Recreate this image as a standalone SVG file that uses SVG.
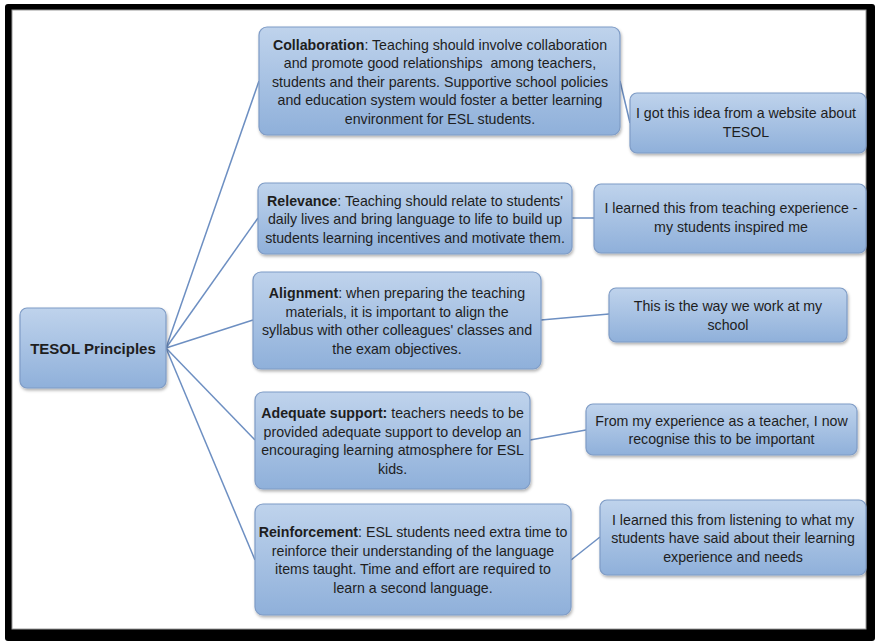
<svg xmlns="http://www.w3.org/2000/svg" width="875" height="641" viewBox="0 0 875 641">
<defs>
<linearGradient id="g" x1="0" y1="0" x2="0" y2="1">
<stop offset="0" stop-color="#bfd3ec"/>
<stop offset="1" stop-color="#8fb0da"/>
</linearGradient>
<filter id="sh" x="-5%" y="-10%" width="110%" height="125%">
<feDropShadow dx="1" dy="2" stdDeviation="1.5" flood-color="#000" flood-opacity="0.3"/>
</filter>
</defs>
<style>
.box{fill:url(#g);stroke:#7f9cc6;stroke-width:1.2;filter:url(#sh)}
.t{font-family:"Liberation Sans",Arial,sans-serif;font-size:14.2px;fill:#1e1e1e;text-anchor:middle}
.b{font-weight:bold}
.c{stroke:#6d8fc2;stroke-width:1.5;fill:none}
</style>
<rect x="5" y="4" width="870" height="637" rx="3" fill="#000"/>
<rect x="12" y="10" width="854" height="619" fill="#fff" stroke="#9a9a9a" stroke-width="1"/>
<g id="connectors">
<line class="c" x1="166" y1="348" x2="259" y2="81"/>
<line class="c" x1="166" y1="348" x2="258" y2="218"/>
<line class="c" x1="166" y1="348" x2="253" y2="320"/>
<line class="c" x1="166" y1="348" x2="255" y2="440"/>
<line class="c" x1="166" y1="348" x2="255" y2="560"/>
<line class="c" x1="620" y1="81" x2="630" y2="123"/>
<line class="c" x1="572" y1="218" x2="594" y2="218"/>
<line class="c" x1="541" y1="320" x2="609" y2="314"/>
<line class="c" x1="530" y1="440" x2="586" y2="430"/>
<line class="c" x1="571" y1="560" x2="600" y2="537"/>
</g>
<g id="root">
<rect class="box" x="20" y="308" width="146" height="80" rx="7"/>
<text class="t b" x="93" y="353.5" style="font-size:15px">TESOL Principles</text>
</g>
<g id="collaboration">
<rect class="box" x="259" y="27" width="361" height="108" rx="8"/>
<text class="t" x="440" y="49.5"><tspan class="b">Collaboration</tspan>: Teaching should involve collaboration</text>
<text class="t" x="440" y="68">and promote good relationships&#160; among teachers,</text>
<text class="t" x="440" y="86.5">students and their parents. Supportive school policies</text>
<text class="t" x="440" y="105">and education system would foster a better learning</text>
<text class="t" x="440" y="123.5">environment for ESL students.</text>
</g>
<g id="collaboration-source">
<rect class="box" x="630" y="93" width="236" height="60" rx="7"/>
<text class="t" x="746" y="118">I got this idea from a website about</text>
<text class="t" x="746" y="136.5">TESOL</text>
</g>
<g id="relevance">
<rect class="box" x="258" y="183" width="314" height="71" rx="7"/>
<text class="t" x="415" y="205.5"><tspan class="b">Relevance</tspan>: Teaching should relate to students'</text>
<text class="t" x="415" y="224">daily lives and bring language to life to build up</text>
<text class="t" x="415" y="242.5">students learning incentives and motivate them.</text>
</g>
<g id="relevance-source">
<rect class="box" x="594" y="184" width="272" height="69" rx="7"/>
<text class="t" x="731" y="213">I learned this from teaching experience -</text>
<text class="t" x="731" y="231.5">my students inspired me</text>
</g>
<g id="alignment">
<rect class="box" x="253" y="272" width="288" height="97" rx="8"/>
<text class="t" x="397" y="298.25"><tspan class="b">Alignment</tspan>: when preparing the teaching</text>
<text class="t" x="397" y="316.75">materials, it is important to align the</text>
<text class="t" x="397" y="335.25">syllabus with other colleagues' classes and</text>
<text class="t" x="397" y="353.75">the exam objectives.</text>
</g>
<g id="alignment-source">
<rect class="box" x="609" y="288" width="238" height="54" rx="7"/>
<text class="t" x="728" y="311">This is the way we work at my</text>
<text class="t" x="728" y="329.5">school</text>
</g>
<g id="adequate-support">
<rect class="box" x="255" y="392" width="275" height="97" rx="8"/>
<text class="t" x="392.5" y="418.25"><tspan class="b">Adequate support:</tspan> teachers needs to be</text>
<text class="t" x="392.5" y="436.75">provided adequate support to develop an</text>
<text class="t" x="392.5" y="455.25">encouraging learning atmosphere for ESL</text>
<text class="t" x="392.5" y="473.75">kids.</text>
</g>
<g id="adequate-support-source">
<rect class="box" x="586" y="404" width="271" height="51" rx="7"/>
<text class="t" x="721.5" y="425.5">From my experience as a teacher, I now</text>
<text class="t" x="721.5" y="444">recognise this to be important</text>
</g>
<g id="reinforcement">
<rect class="box" x="255" y="504" width="316" height="111" rx="8"/>
<text class="t" x="413" y="537.25"><tspan class="b">Reinforcement</tspan>: ESL students need extra time to</text>
<text class="t" x="413" y="555.75">reinforce their understanding of the language</text>
<text class="t" x="413" y="574.25">items taught. Time and effort are required to</text>
<text class="t" x="413" y="592.75">learn a second language.</text>
</g>
<g id="reinforcement-source">
<rect class="box" x="600" y="500" width="266" height="75" rx="7"/>
<text class="t" x="733" y="524.5">I learned this from listening to what my</text>
<text class="t" x="733" y="543">students have said about their learning</text>
<text class="t" x="733" y="561.5">experience and needs</text>
</g>
</svg>
